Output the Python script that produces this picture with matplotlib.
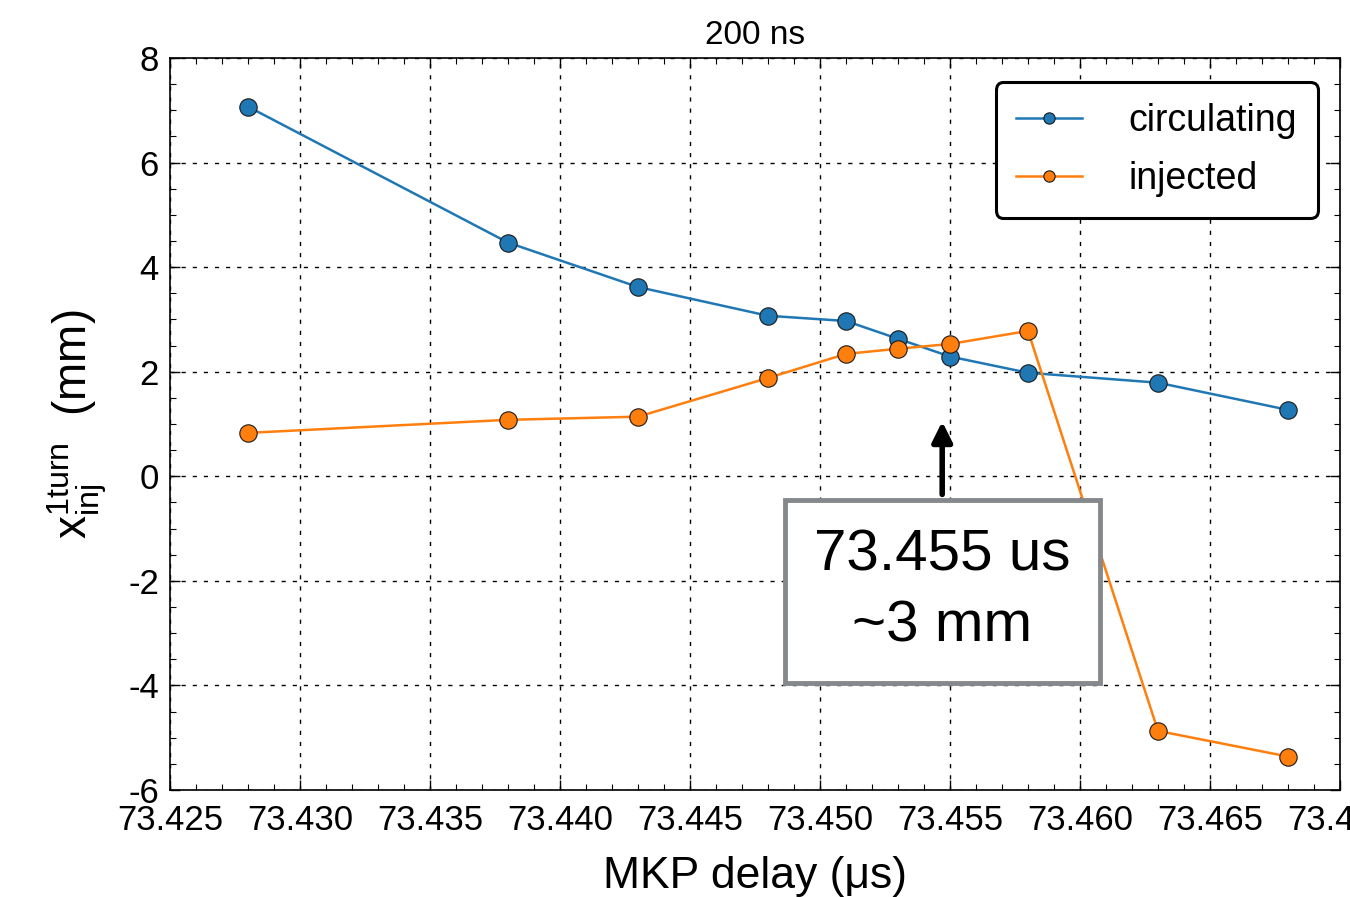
import matplotlib
matplotlib.use("Agg")
import matplotlib.pyplot as plt
from matplotlib.ticker import MultipleLocator

plt.rcParams['font.family'] = ['Liberation Sans', 'DejaVu Sans']
plt.rcParams['axes.unicode_minus'] = False
plt.rcParams['mathtext.default'] = 'regular'

delay = [73.428, 73.438, 73.443, 73.448, 73.451, 73.453, 73.455, 73.458, 73.463, 73.468]
circulating = [7.07, 4.47, 3.62, 3.07, 2.97, 2.63, 2.29, 1.98, 1.79, 1.27]
injected = [0.83, 1.08, 1.14, 1.88, 2.34, 2.44, 2.53, 2.78, -4.87, -5.36]
xticks = [73.425, 73.430, 73.435, 73.440, 73.445, 73.450, 73.455, 73.460, 73.465, 73.470]
yticks = [-6, -4, -2, 0, 2, 4, 6, 8]

fig = plt.figure(figsize=(13.5, 8.97), dpi=100)
ax = fig.add_axes([170/1350, 1-790/897, 1170/1350, 732/897])

ax.plot(delay, circulating, '-o', color='#1f77b4', lw=1.8, ms=12.5,
        mec='#1a1a1a', mew=0.8, label='circulating', zorder=3)
ax.plot(delay, injected, '-o', color='#ff7f0e', lw=1.8, ms=12.5,
        mec='#1a1a1a', mew=0.8, label='injected', zorder=3)

ax.set_xlim(73.425, 73.470)
ax.set_ylim(-6, 8)
ax.set_xticks(xticks)
ax.set_xticklabels([f"{t:.3f}" for t in xticks])
ax.set_yticks(yticks)
ax.set_yticklabels([str(t) for t in yticks])
ax.xaxis.set_minor_locator(MultipleLocator(0.001))
ax.yaxis.set_minor_locator(MultipleLocator(0.5))
ax.tick_params(which='both', direction='in', top=True, right=True, labelsize=25, pad=8)
ax.tick_params(axis='x', pad=10)
ax.tick_params(which='major', length=7, width=1)
ax.tick_params(which='minor', length=4, width=0.8)
ax.grid(True, which='major', color='black', linestyle=(0, (3, 5)), lw=1)
ax.set_axisbelow(True)
for s in ax.spines.values():
    s.set_linewidth(1.2)

ax.set_title('200 ns', fontsize=24, pad=10)
ax.set_xlabel('MKP delay (μs)', fontsize=32, labelpad=14)
ax.set_ylabel(r'$x_{inj}^{1turn}$  (mm)', fontsize=33, labelpad=14)

leg = ax.legend(loc='upper right', fontsize=27, markerscale=0.65, handlelength=1.75,
                handletextpad=1.25, borderpad=0.55, labelspacing=0.6, borderaxespad=0,
                bbox_to_anchor=(0.981, 0.967), fancybox=True, framealpha=1)
leg.get_frame().set_edgecolor('black')
leg.get_frame().set_linewidth(2.2)

ax.annotate('', xy=(73.4547, 1.1), xytext=(73.4547, -0.4),
            arrowprops=dict(arrowstyle='-|>', color='black', lw=4, mutation_scale=30))
ax.text(73.4547, -2.2, '73.455 us\n~3 mm', fontsize=42, ha='center', va='center',
        linespacing=1.4,
        bbox=dict(boxstyle='square,pad=0.5', fc='white', ec='#86898c', lw=3.5))

fig.savefig('out.png', dpi=100)
